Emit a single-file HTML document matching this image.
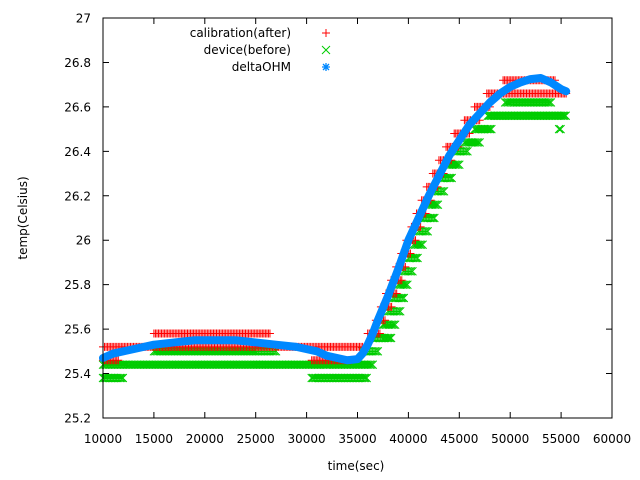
<!DOCTYPE html>
<html><head><meta charset="utf-8"><style>
body{margin:0;background:#fff;}
svg{display:block;font-family:"DejaVu Sans","Liberation Sans",sans-serif;font-size:12px;}
</style></head><body>
<svg id="chart" width="640" height="480">
<g id="marks"></g>
<g id="axes"></g>
<g id="legend">
 <text x="291" y="37" text-anchor="end" fill="#000">calibration(after)</text>
 <text x="291" y="54" text-anchor="end" fill="#000">device(before)</text>
 <text x="291" y="71" text-anchor="end" fill="#000">deltaOHM</text>
 <path d="M322 33h8M326 29v8" stroke="#f00" stroke-width="1"/>
 <path d="M322 46l8 8M330 46l-8 8" stroke="#0c0" stroke-width="1"/>
 <path d="M322 67h8M326 63v8M323 64l6 6M329 64l-6 6" stroke="#08f" stroke-width="1.3"/>
</g>
<text x="356" y="470" text-anchor="middle">time(sec)</text>
<text x="0" y="0" transform="translate(27,218) rotate(-90)" text-anchor="middle">temp(Celsius)</text>
</svg>
<script>
const xTicks=[10000,15000,20000,25000,30000,35000,40000,45000,50000,55000,60000];
const yTicks=["25.2","25.4","25.6","25.8","26","26.2","26.4","26.6","26.8","27"];
// segments: [startTime, endTime, temperature]
const greenSegs=[[10000,12000,25.38],[10000,32000,25.44],[15000,27000,25.5],[30500,36000,25.38],[32000,36500,25.44],[35500,37000,25.5],[36500,38300,25.56],[37500,38700,25.62],[38000,39200,25.68],[38500,39600,25.74],[39000,40000,25.8],[39500,40500,25.86],[40000,41000,25.92],[40500,41500,25.98],[41000,42000,26.04],[41500,42600,26.1],[42000,43000,26.16],[42600,43600,26.22],[43200,44300,26.28],[43800,45000,26.34],[44600,45800,26.4],[45500,47000,26.44],[46500,48200,26.5],[47800,55500,26.56],[49500,54000,26.62],[54800,55000,26.5]];
const redSegs=[[10000,35500,25.52],[15000,26500,25.58],[10000,11500,25.46],[30500,34500,25.46],[36000,37300,25.58],[36800,37800,25.64],[37300,38400,25.7],[37800,38900,25.76],[38300,39400,25.82],[38800,39800,25.88],[39300,40200,25.94],[39800,40700,26.0],[40300,41200,26.06],[40800,41700,26.12],[41300,42300,26.18],[41800,42900,26.24],[42400,43500,26.3],[43000,44200,26.36],[43700,45000,26.42],[44500,46000,26.48],[45500,47100,26.54],[46500,48100,26.6],[47700,55500,26.66],[49300,54500,26.72]];
const blueT=[10000,11000,12000,13000,14000,15000,17000,19000,21000,23000,25000,27000,29000,30000,31000,32000,33000,34000,35000,35500,36000,36500,37000,38000,39000,40000,41000,42000,43000,44000,45000,46000,47000,48000,49000,50000,51000,52000,53000,54000,55000,55500];
const blueV=[25.47,25.49,25.5,25.51,25.52,25.53,25.54,25.55,25.55,25.55,25.54,25.53,25.52,25.51,25.5,25.48,25.47,25.46,25.465,25.49,25.53,25.58,25.64,25.75,25.87,26.0,26.1,26.2,26.29,26.38,26.45,26.52,26.57,26.62,26.66,26.69,26.71,26.725,26.73,26.71,26.68,26.67];
const X0=103,X1=612,Y0=418,Y1=18;
const sx=t=>X0+(t-10000)/50000*(X1-X0);
const sy=v=>Y0-(v-25.2)/1.8*(Y0-Y1);
const NS="http://www.w3.org/2000/svg";
const marks=document.getElementById('marks');
function mk(tag,attrs,parent){const e=document.createElementNS(NS,tag);for(const k in attrs)e.setAttribute(k,attrs[k]);parent.appendChild(e);return e;}
function segPath(segs,type){let d="";for(const s of segs){const y=sy(s[2]);for(let t=s[0];t<=s[1];t+=150){const x=sx(t);if(type==='plus')d+=`M${x-4} ${y}h8M${x} ${y-4}v8`;else d+=`M${x-4} ${y-4}l8 8M${x+4} ${y-4}l-8 8`;}}return d;}
const g=mk('path',{d:segPath(greenSegs,'x'),stroke:'#0c0','stroke-width':1,fill:'none'},marks);


const r=mk('path',{d:segPath(redSegs,'plus'),stroke:'#f00','stroke-width':1,fill:'none'},marks);


const b=mk('polyline',{points:blueT.map((t,i)=>sx(t)+','+sy(blueV[i])).join(' '),stroke:'#08f','stroke-width':8,fill:'none','stroke-linejoin':'round','stroke-linecap':'round'},marks);


const ax=document.getElementById('axes');
const fr=mk('rect',{x:X0,y:Y1,width:X1-X0,height:Y0-Y1,fill:'none',stroke:'#000','stroke-width':1},ax);


let td="";
xTicks.forEach(t=>{const x=sx(t);td+=`M${x} ${Y0}v-6M${x} ${Y1}v6`;
 const tx=mk('text',{x:x,y:443,'text-anchor':'middle'},ax);tx.textContent=t;
 
 });
yTicks.forEach(l=>{const y=sy(parseFloat(l));td+=`M${X0} ${y}h6M${X1} ${y}h-6`;
 const tx=mk('text',{x:91,y:y+4.5,'text-anchor':'end'},ax);tx.textContent=l;
 
 });
const tk=mk('path',{d:td,stroke:'#000','stroke-width':1},ax);


</script>
</body></html>
